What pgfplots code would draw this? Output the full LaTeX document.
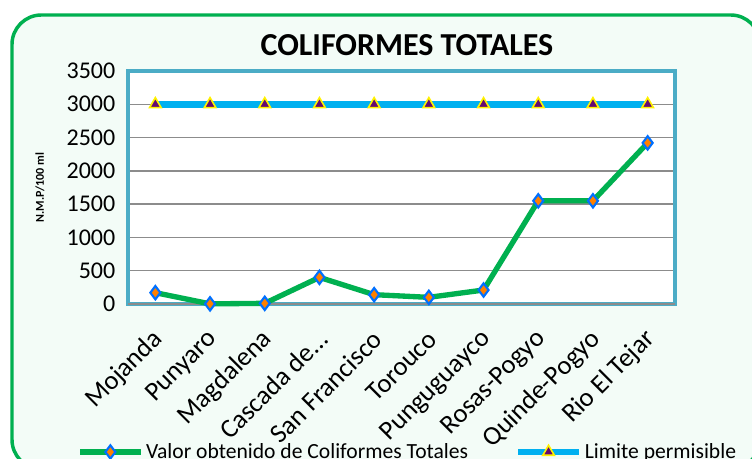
\documentclass[border=0pt]{standalone}
\usepackage{fontspec}
\setmainfont{Carlito}
\usepackage{pgfplots}
\pgfplotsset{compat=1.18}
\definecolor{bgmint}{HTML}{F3FCF7}
\definecolor{framegreen}{HTML}{00B050}
\definecolor{valgreen}{HTML}{00B050}
\definecolor{limcyan}{HTML}{00B0F0}
\definecolor{axisteal}{HTML}{4BACC6}
\definecolor{mkblue}{HTML}{0070FF}
\definecolor{mkpurple}{HTML}{660A70}
\definecolor{gridgray}{HTML}{8C8C8C}

\begin{document}
\begin{tikzpicture}[x=0.75pt,y=0.75pt]
% page = 752 x 459 px, axis origin at px (128,304)
\clip (-128,-155) rectangle (624,304);
\fill[white] (-128,-155) rectangle (624,304);
\draw[line width=2.6pt, draw=framegreen, fill=bgmint, rounded corners=22pt]
  (-116,289) rectangle (632,-165);
\begin{axis}[
    at={(0,0)}, anchor=south west,
    scale only axis,
    width=410.25pt, height=174.75pt,
    xmin=-0.5, xmax=9.5, ymin=0, ymax=3500,
    xtick={0,...,9},
    xticklabels={Mojanda,Punyaro,Magdalena,Cascada de\ldots,San Francisco,Torouco,Punguguayco,Rosas-Pogyo,Quinde-Pogyo,Rio El Tejar},
    ytick={0,500,...,3500},
    ymajorgrids,
    grid style={gridgray, line width=1pt},
    axis line style={draw=axisteal, line width=3pt},
    axis background/.style={fill=white},
    tick style={draw=none},
    /pgf/number format/assume math mode=true,
    /pgf/number format/1000 sep={},
    yticklabel style={font=\fontsize{18}{18}\selectfont, xshift=-6pt},
    xticklabel style={font=\fontsize{20}{20}\selectfont, yshift=-21pt, xshift=5pt, rotate=45, anchor=east},
    ylabel={\textbf{N.M.P/100 ml}},
    ylabel style={font=\fontsize{9}{9}\selectfont, at={(axis description cs:-0.161,0.5)}, anchor=center},
    title={\textbf{COLIFORMES TOTALES}},
    title style={font=\fontsize{24}{24}\selectfont, at={(axis description cs:0.51,1.075)}, anchor=center},
    legend style={at={(axis description cs:0.512,-0.635)}, anchor=center,
                  draw=none, fill=none, legend columns=2,
                  font=\fontsize{16.2}{17}\selectfont,
                  /tikz/every even column/.append style={column sep=33pt}},
    legend image code/.code={\draw[mark repeat=2,mark phase=2,#1] plot coordinates {(0cm,0cm) (0.8cm,0cm) (1.6cm,0cm)};},
    clip=false
]
\addplot[draw=gridgray, line width=1pt, forget plot] coordinates {(-0.5,0) (9.5,0)};
\addplot[valgreen, line width=4pt, mark=diamond*, mark size=5pt,
         mark options={fill=orange, draw=mkblue, line width=1.6pt}]
  coordinates {(0,170)(1,2)(2,10)(3,400)(4,140)(5,100)(6,210)(7,1550)(8,1550)(9,2420)};
\addlegendentry{Valor obtenido de Coliformes Totales}
\addplot[limcyan, line width=5pt, mark=triangle*, mark size=5pt,
         mark options={fill=mkpurple, draw=yellow, line width=1.2pt}]
  coordinates {(0,3000)(1,3000)(2,3000)(3,3000)(4,3000)(5,3000)(6,3000)(7,3000)(8,3000)(9,3000)};
\addlegendentry{Limite permisible}
\end{axis}
\end{tikzpicture}
\end{document}
